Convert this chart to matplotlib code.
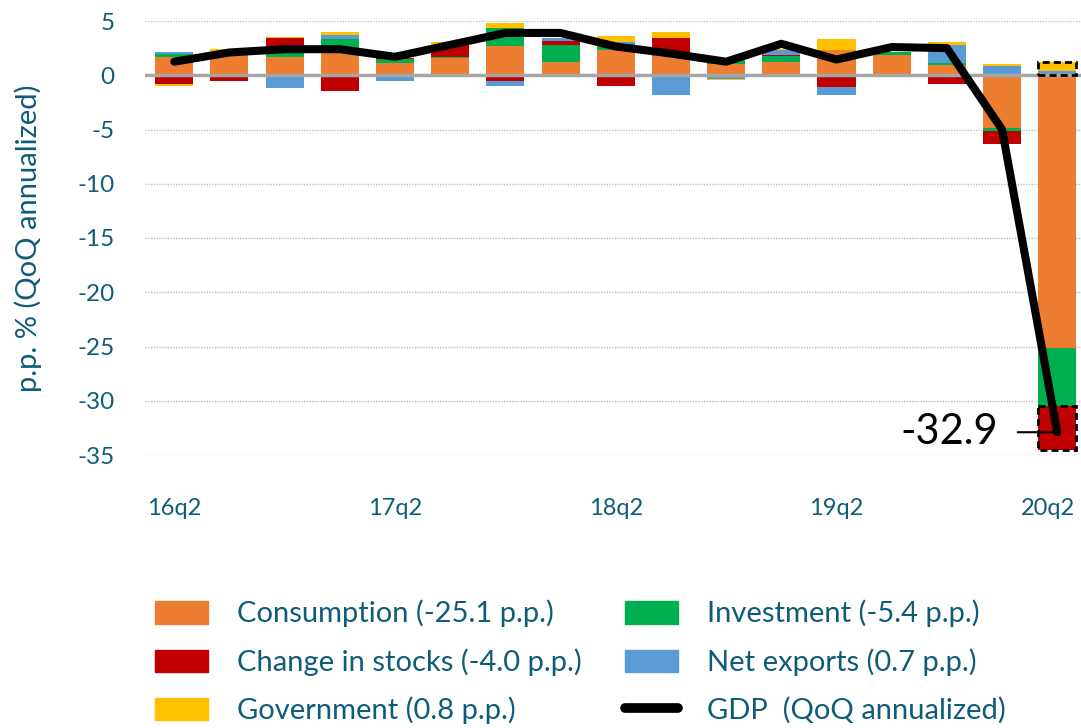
import numpy as np
import matplotlib
matplotlib.use('Agg')
import matplotlib.pyplot as plt
import matplotlib.transforms as mtransforms
from matplotlib.patches import Patch
from matplotlib.lines import Line2D

plt.rcParams['font.family'] = ['Lato', 'DejaVu Sans']
plt.rcParams['axes.unicode_minus'] = False

# quarters 16q2 .. 20q2
quarters = ['16q2', '16q3', '16q4', '17q1', '17q2', '17q3', '17q4', '18q1', '18q2',
            '18q3', '18q4', '19q1', '19q2', '19q3', '19q4', '20q1', '20q2']
tick_labels = ['16q2', '17q2', '18q2', '19q2', '20q2']

consumption = [1.65, 2.0, 1.65, 2.2, 1.1, 1.55, 2.7, 1.25, 2.3, 1.9, 1.0, 1.25, 2.35, 1.9, 0.95, -4.85, -25.1]
investment = [0.3, 0.1, 0.45, 1.1, 0.4, 0.15, 1.65, 1.55, 0.55, 0.0, 0.4, 0.5, 0.0, 0.2, 0.15, -0.3, -5.4]
stocks = [-0.85, -0.5, 1.3, -1.45, 0.05, 1.1, -0.55, 0.4, -0.95, 1.55, 0.05, 0.15, -1.1, 0.0, -0.85, -1.2, -4.0]
net_exports = [0.15, 0.0, -1.15, 0.45, -0.55, 0.0, -0.45, 0.2, 0.25, -1.8, -0.35, 0.45, -0.7, 0.0, 1.7, 0.85, 0.4]
government = [-0.15, 0.3, 0.15, 0.2, 0.0, 0.3, 0.45, 0.0, 0.5, 0.5, -0.1, 0.1, 0.95, 0.0, 0.3, 0.2, 0.8]
gdp = [1.25, 2.1, 2.4, 2.4, 1.7, 2.8, 3.9, 3.9, 2.65, 2.0, 1.25, 2.9, 1.45, 2.6, 2.5, -5.0, -32.9]

series = [consumption, investment, stocks, net_exports, government]
names = ['Consumption (-25.1 p.p.)', 'Investment (-5.4 p.p.)', 'Change in stocks (-4.0 p.p.)',
         'Net exports (0.7 p.p.)', 'Government (0.8 p.p.)']
colors = ['#ED7D31', '#00B050', '#C00000', '#5B9BD5', '#FFC000']
txt = '#0F5C78'

x = np.arange(len(quarters))
w = 0.69

fig = plt.figure(figsize=(10.81, 7.28), dpi=100)
ax = fig.add_axes([145/1081, 1 - 455/728, 936/1081, 434/728])

pos = np.zeros(len(x))
neg = np.zeros(len(x))
bottoms = []
for vals, c in zip(series, colors):
    v = np.array(vals)
    b = np.where(v >= 0, pos, neg)
    ax.bar(x, v, w, bottom=b, color=c, zorder=2)
    bottoms.append(b)
    pos = pos + np.where(v > 0, v, 0)
    neg = neg + np.where(v < 0, v, 0)

# dashed highlight boxes on the last quarter
i = len(x) - 1
ax.bar(x[i], stocks[i], w, bottom=bottoms[2][i], fill=False, edgecolor='black',
       linestyle=(0, (2.5, 1.5)), lw=2, zorder=4, clip_on=False)
ax.bar(x[i], pos[i], w, bottom=0, fill=False, edgecolor='black',
       linestyle=(0, (2.5, 1.5)), lw=2, zorder=4, clip_on=False)

ax.axhline(0, color='#A6A6A6', lw=2.5, zorder=3)
ax.plot(x, gdp, color='black', lw=5.8, solid_capstyle='round', solid_joinstyle='round',
        zorder=5, clip_on=False)

ax.annotate('%.1f' % gdp[-1], xy=(x[-1], gdp[-1]), xytext=(-59, 0), textcoords='offset pixels',
            ha='right', va='center', fontsize=30, color='black',
            arrowprops=dict(arrowstyle='-', color='black', lw=1.5, shrinkA=12, shrinkB=0),
            zorder=6)

ax.set_xlim(-0.53, 16.43)
ax.set_ylim(-35, 5)
ax.set_yticks(np.arange(-35, 6, 5))
ax.set_yticklabels([str(t) for t in range(-35, 6, 5)])
ax.set_xticks(x[::4])
ax.set_xticklabels(tick_labels)
ax.tick_params(axis='y', length=0, pad=22, labelsize=17.5, labelcolor=txt)
ax.tick_params(axis='x', length=0, pad=31, labelsize=17, labelcolor=txt)
# nudge the last quarter label so it stays inside the figure
last = ax.get_xticklabels()[-1]
last.set_transform(last.get_transform() + mtransforms.ScaledTranslation(-9/100, 0, fig.dpi_scale_trans))
ax.grid(axis='y', color='#BFBFBF', linestyle=(0, (1, 1)), lw=1, zorder=0)
for s in ax.spines.values():
    s.set_visible(False)

ax.set_ylabel('p.p. % (QoQ annualized)', fontsize=21, color=txt)
ax.yaxis.set_label_coords(-0.11, 0.5)

handles = [Patch(color=colors[0]), Patch(color=colors[2]), Patch(color=colors[4]),
           Patch(color=colors[1]), Patch(color=colors[3]),
           Line2D([0], [0], color='black', lw=7, solid_capstyle='round')]
labels = [names[0], names[2], names[4], names[1], names[3], 'GDP  (QoQ annualized)']
leg = fig.legend(handles, labels, ncol=2, loc='upper left', bbox_to_anchor=(155/1081, 0.176),
                 frameon=False, fontsize=21, handlelength=1.8, handleheight=0.8,
                 handletextpad=1.0, labelspacing=0.71, columnspacing=1.5,
                 borderaxespad=0, borderpad=0)
for t in leg.get_texts():
    t.set_color(txt)

fig.savefig('out.png', dpi=100)
